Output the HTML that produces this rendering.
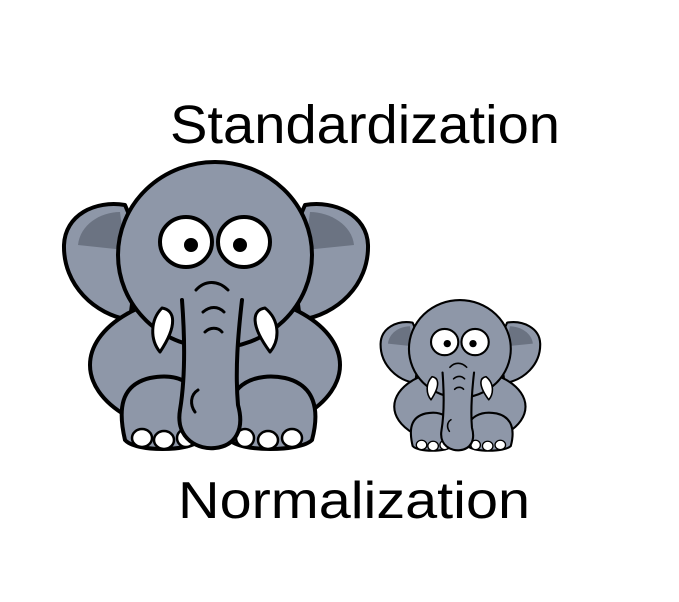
<!DOCTYPE html>
<html><head><meta charset="utf-8"><style>html,body{margin:0;padding:0;background:#fff;}svg{display:block}</style></head>
<body>
<svg width="679" height="602" viewBox="0 0 679 602" xmlns="http://www.w3.org/2000/svg">
<rect width="679" height="602" fill="#fff"/>
<text x="170" y="143" font-family="Liberation Sans, sans-serif" font-size="54" fill="#000" textLength="390" lengthAdjust="spacingAndGlyphs">Standardization</text>
<text x="178" y="518" font-family="Liberation Sans, sans-serif" font-size="52" fill="#000" textLength="352" lengthAdjust="spacingAndGlyphs">Normalization</text>
<defs>
<g id="el" stroke="#000" stroke-width="4" stroke-linejoin="round" stroke-linecap="round">
  <path d="M125 205 C95 200 65 215 64 245 C63 285 95 315 130 320 L140 240 Z" fill="#8e97a8"/>
  <path d="M120 212 C100 212 80 225 78 245 L125 250 Z" fill="#6b7382" stroke="none"/>
  <path d="M305 205 C335 200 367 215 368 245 C369 285 337 315 300 320 L290 240 Z" fill="#8e97a8"/>
  <path d="M310 212 C330 212 352 225 354 245 L305 250 Z" fill="#6b7382" stroke="none"/>
  <ellipse cx="215" cy="365" rx="125" ry="72" fill="#8e97a8"/>
  <ellipse cx="215" cy="255" rx="97" ry="93" fill="#8e97a8"/>
  <path d="M125 440 C118 410 120 385 150 378 C180 372 200 385 200 410 L200 440 C190 452 135 452 125 440 Z" fill="#8e97a8"/>
  <path d="M230 440 L230 410 C230 385 255 372 285 378 C315 385 320 410 312 440 C300 452 240 452 230 440 Z" fill="#8e97a8"/>
  <g fill="#fff" stroke-width="2.5">
    <ellipse cx="142" cy="438" rx="10" ry="9"/><ellipse cx="164" cy="440" rx="10" ry="9"/><ellipse cx="186" cy="438" rx="9" ry="9"/>
    <ellipse cx="245" cy="438" rx="9" ry="9"/><ellipse cx="268" cy="440" rx="10" ry="9"/><ellipse cx="292" cy="438" rx="10" ry="9"/>
  </g>
  <path d="M182 300 C185 340 185 380 180 410 C175 440 200 450 215 448 C235 446 245 430 238 405 C235 370 238 335 242 300" fill="#8e97a8"/>
  <path d="M198 390 C190 395 190 405 195 412" fill="none" stroke-width="3"/>
  <path d="M196 290 C205 280 218 280 228 290" fill="none" stroke-width="3"/>
  <path d="M203 312 C210 306 218 306 224 312" fill="none" stroke-width="3"/>
  <path d="M205 332 C210 327 218 327 222 332" fill="none" stroke-width="3"/>
  <path d="M162 308 C175 310 178 325 160 352 C150 340 150 320 162 308 Z" fill="#fff" stroke-width="3"/>
  <path d="M265 308 C252 310 250 325 270 352 C280 340 280 320 265 308 Z" fill="#fff" stroke-width="3"/>
  <ellipse cx="186" cy="242" rx="26" ry="25" fill="#fff"/>
  <ellipse cx="244" cy="242" rx="26" ry="25" fill="#fff"/>
  <circle cx="191" cy="245" r="7" fill="#000" stroke="none"/>
  <circle cx="240" cy="245" r="7" fill="#000" stroke="none"/>
</g>
</defs>
<use href="#el"/>
<use href="#el" transform="translate(347,215) scale(0.525)"/>
</svg>
</body></html>
